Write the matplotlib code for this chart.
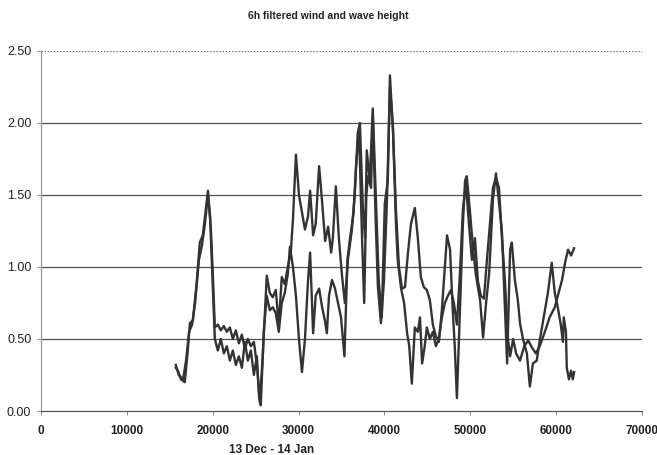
import matplotlib
matplotlib.use("Agg")
import matplotlib.pyplot as plt

title = "6h filtered wind and wave height"
xlabel = "13 Dec - 14 Jan"
xticks = [0, 10000, 20000, 30000, 40000, 50000, 60000, 70000]
yticks = [0.0, 0.5, 1.0, 1.5, 2.0, 2.5]

# Series A (higher peaks in the middle, ends low)
a_x = [15700, 15950, 16300, 16750, 17100, 17350, 17700, 18150, 18500, 18850,
       19200, 19450, 19800, 20050, 20250, 20600, 20950, 21300, 21650, 22000,
       22350, 22700, 23050, 23400, 23750, 24100, 24450, 24800, 25150, 25500,
       25850, 26300, 26650, 27000, 27350, 27700, 28050, 28400, 28750, 29100,
       29350, 29700, 30050, 30400, 30750, 31100, 31350, 31700, 32000, 32400,
       32750, 33100, 33450, 33800, 34000, 34350, 34700, 35050, 35400, 35750,
       36200, 36550, 36900, 37150, 37500, 37750, 37950, 38300, 38650, 39000,
       39350, 39700, 40050, 40400, 40650, 41000, 41350, 41700, 42050, 42400,
       42750, 43100, 43550, 43900, 44250, 44600, 44950, 45300, 45650, 46000,
       46350, 46700, 47050, 47300, 47650, 47950, 48200, 48450, 48800, 49150,
       49400, 49600, 49950, 50300, 50650, 51150, 51500, 51850, 52200, 52650,
       53000, 53350, 53700, 54050, 54300, 54650, 54850, 55200, 55550, 55800,
       56150, 56600, 56950, 57300, 57750, 58100, 58700, 59050, 59500, 59850,
       60200, 60550, 60800, 60900, 61150, 61250, 61500, 61750, 61950, 62100]
a_y = [0.30, 0.28, 0.22, 0.20, 0.42, 0.61, 0.63, 0.90, 1.17, 1.22,
       1.40, 1.53, 1.25, 0.90, 0.58, 0.60, 0.56, 0.59, 0.55, 0.58,
       0.50, 0.56, 0.47, 0.53, 0.43, 0.50, 0.45, 0.48, 0.32, 0.06,
       0.40, 0.94, 0.82, 0.79, 0.84, 0.60, 0.93, 0.88, 1.00, 1.10,
       1.33, 1.78, 1.50, 1.38, 1.26, 1.35, 1.53, 1.22, 1.30, 1.70,
       1.45, 1.18, 1.28, 1.10, 1.20, 1.56, 1.20, 0.95, 0.75, 1.05,
       1.25, 1.50, 1.93, 2.00, 1.40, 1.20, 1.81, 1.60, 2.10, 1.50,
       0.90, 0.65, 1.44, 1.60, 2.33, 1.95, 1.40, 1.00, 0.85, 0.86,
       1.10, 1.30, 1.41, 1.20, 0.93, 0.86, 0.84, 0.77, 0.60, 0.52,
       0.48, 0.70, 1.00, 1.22, 1.12, 0.72, 0.45, 0.09, 0.70, 1.30,
       1.60, 1.63, 1.40, 1.15, 0.95, 0.77, 0.51, 0.75, 0.95, 1.47,
       1.65, 1.45, 1.24, 0.72, 0.33, 1.12, 1.17, 0.91, 0.77, 0.61,
       0.50, 0.40, 0.17, 0.33, 0.35, 0.49, 0.70, 0.82, 1.03, 0.82,
       0.72, 0.60, 0.48, 0.65, 0.55, 0.30, 0.22, 0.28, 0.22, 0.27]

# Series B (lower in the middle, ends high)
b_x = [15700, 16050, 16550, 16900, 17250, 17600, 17950, 18400, 18750, 19100,
       19450, 19700, 20050, 20250, 20600, 20950, 21300, 21650, 22000, 22350,
       22700, 23050, 23400, 23750, 24100, 24450, 24800, 25150, 25400, 25600,
       25950, 26300, 26650, 27000, 27350, 27700, 28050, 28400, 28750, 29000,
       29350, 29700, 30050, 30400, 30750, 31100, 31350, 31700, 32000, 32400,
       32750, 33100, 33300, 33550, 33900, 34250, 34600, 34950, 35350, 35700,
       36000, 36400, 36700, 37050, 37400, 37650, 37900, 38100, 38450, 38650,
       39000, 39250, 39600, 39950, 40300, 40650, 41000, 41350, 41550, 41950,
       42300, 42650, 42900, 43200, 43550, 43900, 44150, 44400, 44700, 44950,
       45300, 45650, 46000, 46350, 46700, 47050, 47400, 47750, 48100, 48450,
       48800, 49150, 49500, 49850, 50200, 50550, 50900, 51250, 51600, 51950,
       52300, 52650, 53000, 53350, 53700, 54050, 54400, 54650, 55000, 55350,
       55800, 56300, 56750, 57200, 57650, 58100, 58700, 59250, 59850, 60300,
       60700, 61050, 61400, 61750, 62100]
b_y = [0.32, 0.25, 0.22, 0.35, 0.55, 0.60, 0.75, 1.05, 1.15, 1.30,
       1.50, 1.35, 0.80, 0.50, 0.42, 0.50, 0.40, 0.45, 0.35, 0.42,
       0.32, 0.38, 0.30, 0.48, 0.35, 0.42, 0.25, 0.38, 0.10, 0.04,
       0.55, 0.80, 0.70, 0.72, 0.68, 0.55, 0.75, 0.82, 0.95, 1.14,
       1.00, 0.80, 0.50, 0.27, 0.50, 0.90, 1.10, 0.54, 0.80, 0.85,
       0.72, 0.62, 0.54, 0.80, 0.91, 0.85, 0.75, 0.65, 0.38, 1.05,
       1.20, 1.37, 1.70, 1.95, 1.20, 0.75, 1.50, 1.63, 1.55, 2.05,
       1.30, 0.86, 0.61, 0.90, 1.46, 2.25, 1.97, 1.30, 1.05, 0.85,
       0.75, 0.54, 0.45, 0.19, 0.58, 0.55, 0.65, 0.33, 0.45, 0.58,
       0.50, 0.55, 0.45, 0.50, 0.65, 0.75, 0.80, 0.84, 0.75, 0.60,
       0.95, 1.40, 1.58, 1.30, 1.05, 1.20, 0.90, 0.80, 0.78, 1.05,
       1.30, 1.55, 1.62, 1.55, 1.20, 0.90, 0.50, 0.38, 0.50, 0.40,
       0.35, 0.45, 0.49, 0.44, 0.40, 0.45, 0.55, 0.65, 0.72, 0.82,
       0.91, 1.03, 1.12, 1.08, 1.13]

plt.rcParams['font.family'] = ['Liberation Sans', 'DejaVu Sans']

fig = plt.figure(figsize=(6.57, 4.55), dpi=100)
ax = fig.add_axes([0.0624, 0.0967, 0.9146, 0.7913])

line_col = '#333333'
ax.plot(a_x, a_y, color=line_col, lw=1.7, zorder=3)
ax.plot(b_x, b_y, color=line_col, lw=1.7, zorder=3)

ax.set_xlim(0, 70000)
ax.set_ylim(0, 2.5)
ax.set_xticks(xticks)
ax.set_xticklabels([str(t) for t in xticks], fontsize=8.5, fontweight='bold', color='#222222')
ax.set_yticks(yticks)
ax.set_yticklabels([f"{t:.2f}" for t in yticks], fontsize=9, color='#222222')

for y in yticks[1:-1]:
    ax.axhline(y, color='#505050', lw=0.9, zorder=1)
ax.axhline(2.5, color='#555555', lw=0.9, ls=(0, (1, 1.5)), zorder=1)

for s in ['top', 'right']:
    ax.spines[s].set_visible(False)
ax.spines['left'].set_color('#999999')
ax.spines['left'].set_linewidth(0.9)
ax.spines['bottom'].set_color('#555555')
ax.spines['bottom'].set_linewidth(0.9)

ax.tick_params(axis='both', direction='out', length=3, width=0.6, color='#777777')
ax.tick_params(axis='x', pad=7)
ax.tick_params(axis='y', pad=4)

ax.set_xlabel(xlabel, fontsize=8.5, fontweight='bold', color='#222222')
ax.xaxis.set_label_coords(0.384, -0.092)
fig.text(0.5, 0.965, title, ha='center', va='center', fontsize=7.5, fontweight='bold', color='#222222')

fig.savefig('out.png', dpi=100)
